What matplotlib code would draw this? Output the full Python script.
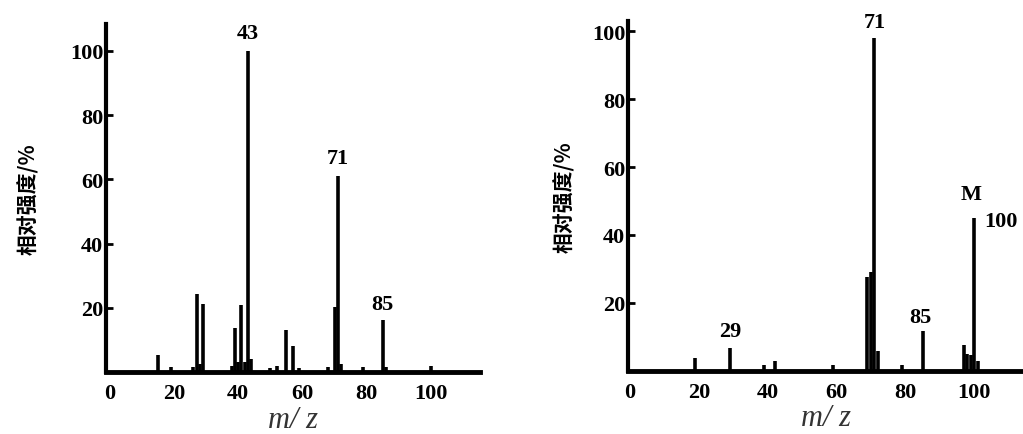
import numpy as np
import matplotlib
matplotlib.use("Agg")
import matplotlib.pyplot as plt

# ---- data ----
# left spectrum
left_mz = [15, 19, 26, 27, 28, 29, 38, 39, 40, 41, 42, 43, 44, 50, 52, 55, 57, 59,
           68, 70, 71, 72, 79, 85, 86, 100]
left_int = [5.2, 1.6, 1.5, 24.4, 2.6, 21.3, 2.0, 13.7, 3.0, 21.0, 3.0, 100, 4.0, 1.3, 1.9, 13.2, 8.0, 1.3,
            1.6, 20.2, 61.2, 2.5, 1.6, 16.3, 1.5, 1.9]
left_labels = [("43", 43, 102.5), ("71", 71, 63.5), ("85", 85, 18.0)]

# right spectrum
right_mz = [19, 29, 39, 42, 59, 69, 70, 71, 72, 79, 85, 97, 98, 99, 100, 101]
right_int = [3.7, 6.8, 1.8, 2.9, 1.8, 27.5, 29.0, 98.0, 5.8, 1.8, 11.7, 7.5, 5.0, 4.5, 45.0, 3.0]
right_labels = [("29", 29, 8.8), ("71", 71.2, 99.7), ("85", 84.5, 12.8), ("M", 99, 49.0)]

xticks = [0, 20, 40, 60, 80, 100]
yticks = [20, 40, 60, 80, 100]
ylabel = "相对强度/%"

serif_bold = dict(family="Liberation Serif", fontweight="bold", fontsize=16)

fig = plt.figure(figsize=(10.23, 4.35), dpi=100)
ax1 = fig.add_axes([0.1036, 0.1425, 0.3656, 0.80])
ax2 = fig.add_axes([0.6139, 0.1455, 0.3861, 0.8046])


def style(ax, xlim, ylim, ypad):
    ax.set_xlim(*xlim)
    ax.set_ylim(*ylim)
    for s in ["top", "right"]:
        ax.spines[s].set_visible(False)
    ax.spines["left"].set_linewidth(3)
    ax.spines["bottom"].set_linewidth(3.5)
    ax.set_xticks(xticks)
    ax.set_yticks(yticks)
    ax.tick_params(axis="x", length=0, pad=8)
    ax.tick_params(axis="y", direction="in", length=5, width=2, pad=2)
    for t in ax.get_xticklabels() + ax.get_yticklabels():
        t.set_fontfamily("Liberation Serif")
        t.set_fontweight("bold")
        t.set_fontsize(16)
    ax.set_xlabel("m/ z", family="Liberation Serif", style="italic", fontsize=22,
                  color="#333333", labelpad=1)
    ax.set_ylabel(ylabel, family=["Noto Sans CJK SC", "DejaVu Sans"], fontweight="black",
                  fontsize=15, labelpad=ypad)


ax1.vlines(left_mz, 0, left_int, color="black", lw=2.6)
style(ax1, (-1.2, 115.3), (0, 108.4), 22)
for txt, x, y in left_labels:
    ax1.text(x, y, txt, ha="center", va="bottom", **serif_bold)

ax2.vlines(right_mz, 0, right_int, color="black", lw=2.6)
style(ax2, (-0.6, 114.2), (0, 103.1), 12)
for txt, x, y in right_labels:
    ax2.text(x, y, txt, ha="center", va="bottom", **serif_bold)
ax2.text(103, 44, "100", ha="left", va="center", clip_on=False, **serif_bold)

fig.savefig("out.png", dpi=100)
